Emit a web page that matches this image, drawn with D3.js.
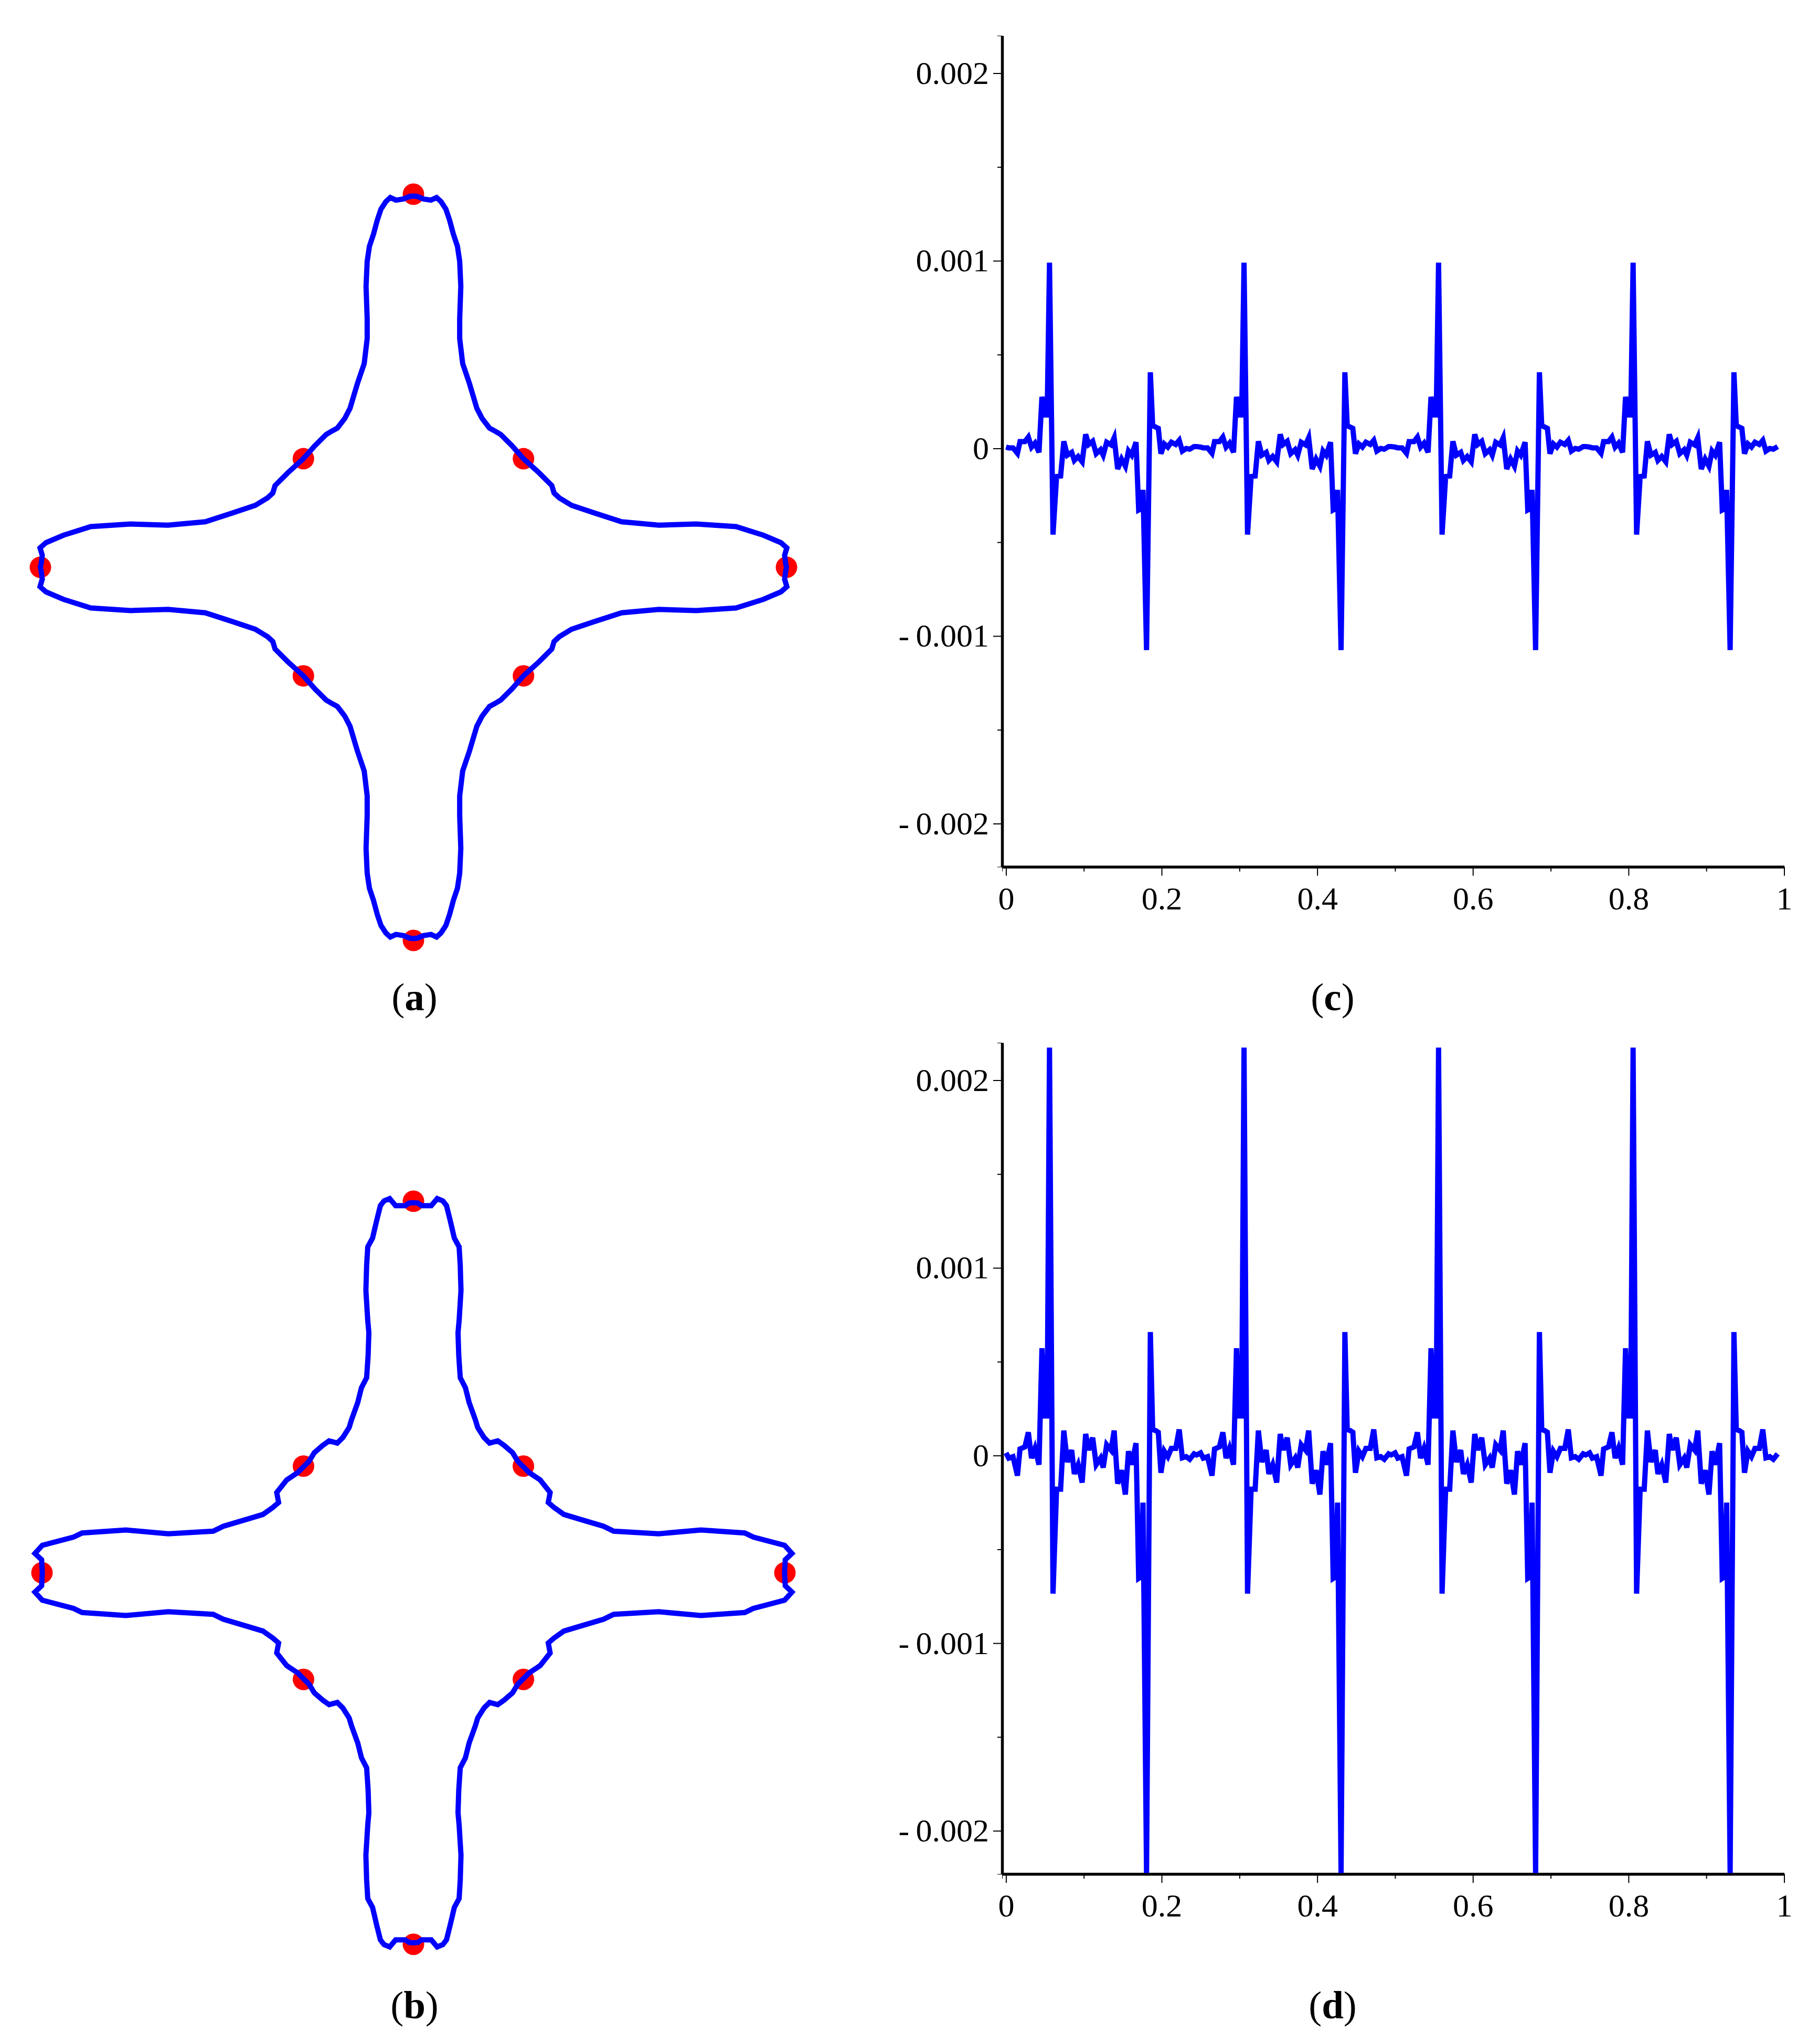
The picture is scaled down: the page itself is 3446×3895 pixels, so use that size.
<!DOCTYPE html>
<html>
<head>
<meta charset="utf-8">
<script src="https://cdn.jsdelivr.net/npm/d3@7"></script>
<style>
  body { margin: 0; background: #fff; }
  svg { display: block; }
</style>
</head>
<body>
<div id="fig"></div>
<script>
// ---- star outlines, unit coords (tip radius = 1) (a) and (b)
var starA = [
  [0,0.995],[0.010,0.994],[0.027,0.987],[0.047,0.984],[0.062,0.991],[0.074,0.980],[0.087,0.960],[0.097,0.930],[0.107,0.893],[0.118,0.860],[0.124,0.820],[0.127,0.753],[0.124,0.666],[0.124,0.613],[0.132,0.546],[0.150,0.493],[0.170,0.426],[0.184,0.399],[0.204,0.373],[0.217,0.366],[0.234,0.356],[0.264,0.326],[0.295,0.291],[0.337,0.253],[0.371,0.219],[0.377,0.199],[0.391,0.186],[0.424,0.166],[0.484,0.146],[0.558,0.122],[0.658,0.113],[0.758,0.116],[0.865,0.109],[0.938,0.086],[0.985,0.066],[1.001,0.052],[0.995,0.032],[0.998,0.009],[1.0,0],
  [0.998,-0.009],[0.995,-0.032],[1.001,-0.052],[0.985,-0.066],[0.938,-0.086],[0.865,-0.109],[0.758,-0.116],[0.658,-0.113],[0.558,-0.122],[0.484,-0.146],[0.424,-0.166],[0.391,-0.186],[0.377,-0.199],[0.371,-0.219],[0.337,-0.253],[0.295,-0.291],[0.264,-0.326],[0.234,-0.356],[0.217,-0.366],[0.204,-0.373],[0.184,-0.399],[0.170,-0.426],[0.150,-0.493],[0.132,-0.546],[0.124,-0.613],[0.124,-0.666],[0.127,-0.753],[0.124,-0.820],[0.118,-0.860],[0.107,-0.893],[0.097,-0.930],[0.087,-0.960],[0.074,-0.980],[0.062,-0.991],[0.047,-0.984],[0.027,-0.987],[0.010,-0.994],[0,-0.995],
  [-0.010,-0.994],[-0.027,-0.987],[-0.047,-0.984],[-0.062,-0.991],[-0.074,-0.980],[-0.087,-0.960],[-0.097,-0.930],[-0.107,-0.893],[-0.118,-0.860],[-0.124,-0.820],[-0.127,-0.753],[-0.124,-0.666],[-0.124,-0.613],[-0.132,-0.546],[-0.150,-0.493],[-0.170,-0.426],[-0.184,-0.399],[-0.204,-0.373],[-0.217,-0.366],[-0.234,-0.356],[-0.264,-0.326],[-0.295,-0.291],[-0.337,-0.253],[-0.371,-0.219],[-0.377,-0.199],[-0.391,-0.186],[-0.424,-0.166],[-0.484,-0.146],[-0.558,-0.122],[-0.658,-0.113],[-0.758,-0.116],[-0.865,-0.109],[-0.938,-0.086],[-0.985,-0.066],[-1.001,-0.052],[-0.995,-0.032],[-0.998,-0.009],[-1.0,0],
  [-0.998,0.009],[-0.995,0.032],[-1.001,0.052],[-0.985,0.066],[-0.938,0.086],[-0.865,0.109],[-0.758,0.116],[-0.658,0.113],[-0.558,0.122],[-0.484,0.146],[-0.424,0.166],[-0.391,0.186],[-0.377,0.199],[-0.371,0.219],[-0.337,0.253],[-0.295,0.291],[-0.264,0.326],[-0.234,0.356],[-0.217,0.366],[-0.204,0.373],[-0.184,0.399],[-0.170,0.426],[-0.150,0.493],[-0.132,0.546],[-0.124,0.613],[-0.124,0.666],[-0.127,0.753],[-0.124,0.820],[-0.118,0.860],[-0.107,0.893],[-0.097,0.930],[-0.087,0.960],[-0.074,0.980],[-0.062,0.991],[-0.047,0.984],[-0.027,0.987],[-0.010,0.994]
];

var starB = [
  [0,0.996],[0.012,0.995],[0.022,0.988],[0.048,0.988],[0.064,1.007],[0.079,1.001],[0.089,0.988],[0.099,0.948],[0.110,0.901],[0.123,0.877],[0.126,0.827],[0.128,0.760],[0.123,0.679],[0.120,0.646],[0.122,0.585],[0.126,0.525],[0.140,0.498],[0.150,0.458],[0.167,0.411],[0.173,0.391],[0.190,0.364],[0.205,0.349],[0.227,0.355],[0.244,0.343],[0.267,0.323],[0.281,0.300],[0.311,0.270],[0.341,0.250],[0.368,0.216],[0.363,0.189],[0.378,0.176],[0.405,0.157],[0.445,0.145],[0.512,0.125],[0.539,0.112],[0.660,0.105],[0.774,0.115],[0.892,0.107],[0.915,0.096],[0.999,0.074],[1.019,0.052],[1.001,0.035],[0.999,0],
  [1.001,-0.035],[1.019,-0.052],[0.999,-0.074],[0.915,-0.096],[0.892,-0.107],[0.774,-0.115],[0.660,-0.105],[0.539,-0.112],[0.512,-0.125],[0.445,-0.145],[0.405,-0.157],[0.378,-0.176],[0.363,-0.189],[0.368,-0.216],[0.341,-0.250],[0.311,-0.270],[0.281,-0.300],[0.267,-0.323],[0.244,-0.343],[0.227,-0.355],[0.205,-0.349],[0.190,-0.364],[0.173,-0.391],[0.167,-0.411],[0.150,-0.458],[0.140,-0.498],[0.126,-0.525],[0.122,-0.585],[0.120,-0.646],[0.123,-0.679],[0.128,-0.760],[0.126,-0.827],[0.123,-0.877],[0.110,-0.901],[0.099,-0.948],[0.089,-0.988],[0.079,-1.001],[0.064,-1.007],[0.048,-0.988],[0.022,-0.988],[0.012,-0.995],[0,-0.996],
  [-0.012,-0.995],[-0.022,-0.988],[-0.048,-0.988],[-0.064,-1.007],[-0.079,-1.001],[-0.089,-0.988],[-0.099,-0.948],[-0.110,-0.901],[-0.123,-0.877],[-0.126,-0.827],[-0.128,-0.760],[-0.123,-0.679],[-0.120,-0.646],[-0.122,-0.585],[-0.126,-0.525],[-0.140,-0.498],[-0.150,-0.458],[-0.167,-0.411],[-0.173,-0.391],[-0.190,-0.364],[-0.205,-0.349],[-0.227,-0.355],[-0.244,-0.343],[-0.267,-0.323],[-0.281,-0.300],[-0.311,-0.270],[-0.341,-0.250],[-0.368,-0.216],[-0.363,-0.189],[-0.378,-0.176],[-0.405,-0.157],[-0.445,-0.145],[-0.512,-0.125],[-0.539,-0.112],[-0.660,-0.105],[-0.774,-0.115],[-0.892,-0.107],[-0.915,-0.096],[-0.999,-0.074],[-1.019,-0.052],[-1.001,-0.035],[-0.999,0],
  [-1.001,0.035],[-1.019,0.052],[-0.999,0.074],[-0.915,0.096],[-0.892,0.107],[-0.774,0.115],[-0.660,0.105],[-0.539,0.112],[-0.512,0.125],[-0.445,0.145],[-0.405,0.157],[-0.378,0.176],[-0.363,0.189],[-0.368,0.216],[-0.341,0.250],[-0.311,0.270],[-0.281,0.300],[-0.267,0.323],[-0.244,0.343],[-0.227,0.355],[-0.205,0.349],[-0.190,0.364],[-0.173,0.391],[-0.167,0.411],[-0.150,0.458],[-0.140,0.498],[-0.126,0.525],[-0.122,0.585],[-0.120,0.646],[-0.123,0.679],[-0.128,0.760],[-0.126,0.827],[-0.123,0.877],[-0.110,0.901],[-0.099,0.948],[-0.089,0.988],[-0.079,1.001],[-0.064,1.007],[-0.048,0.988],[-0.022,0.988],[-0.012,0.995]
];

var dotsA = [[0,1],[0.295,0.291],[1,0],[0.295,-0.291],[0,-1],[-0.295,-0.291],[-1,0],[-0.295,0.291]];
var dotsB = [[0,1],[0.296,0.287],[1,0],[0.296,-0.287],[0,-1],[-0.296,-0.287],[-1,0],[-0.296,0.287]];

// ---- error curves (c) and (d): abscissae and values in units of 1e-3
var tGrid = [
  0,0.0035,0.009,0.0147,0.018,0.0243,0.0287,0.0328,0.0372,0.0424,0.0462,0.05,0.0529,0.0559,0.0604,0.065,0.0702,0.0743,0.0788,0.0844,0.0878,0.0927,0.0979,0.1024,0.1062,0.1114,0.1159,0.1215,0.1249,0.1294,0.135,0.139,0.1435,0.1485,0.1534,0.1574,0.1615,0.1671,0.1705,0.1736,0.1761,0.1806,0.1855,0.1885,0.1923,0.1957,0.1991,0.2035,0.208,0.2125,0.2181,0.2226,0.2266,0.2316,0.2361,0.2417,0.245,
  0.25,0.2535,0.259,0.2647,0.268,0.2743,0.2787,0.2828,0.2872,0.2924,0.2962,0.3,0.3029,0.3059,0.3104,0.315,0.3202,0.3243,0.3288,0.3344,0.3378,0.3427,0.3479,0.3524,0.3562,0.3614,0.3659,0.3715,0.3749,0.3794,0.385,0.389,0.3935,0.3985,0.4034,0.4074,0.4115,0.4171,0.4205,0.4236,0.4261,0.4306,0.4355,0.4385,0.4423,0.4457,0.4491,0.4535,0.458,0.4625,0.4681,0.4726,0.4766,0.4816,0.4861,0.4917,0.495,
  0.5,0.5035,0.509,0.5147,0.518,0.5243,0.5287,0.5328,0.5372,0.5424,0.5462,0.55,0.5529,0.5559,0.5604,0.565,0.5702,0.5743,0.5788,0.5844,0.5878,0.5927,0.5979,0.6024,0.6062,0.6114,0.6159,0.6215,0.6249,0.6294,0.635,0.639,0.6435,0.6485,0.6534,0.6574,0.6615,0.6671,0.6705,0.6736,0.6761,0.6806,0.6855,0.6885,0.6923,0.6957,0.6991,0.7035,0.708,0.7125,0.7181,0.7226,0.7266,0.7316,0.7361,0.7417,0.745,
  0.75,0.7535,0.759,0.7647,0.768,0.7743,0.7787,0.7828,0.7872,0.7924,0.7962,0.8,0.8029,0.8059,0.8104,0.815,0.8202,0.8243,0.8288,0.8344,0.8378,0.8427,0.8479,0.8524,0.8562,0.8614,0.8659,0.8715,0.8749,0.8794,0.885,0.889,0.8935,0.8985,0.9034,0.9074,0.9115,0.9171,0.9205,0.9236,0.9261,0.9306,0.9355,0.9385,0.9423,0.9457,0.9491,0.9535,0.958,0.9625,0.9681,0.9726,0.9766,0.9816,0.9861,0.9917
];

var errC = [
  0.007,0.003,0.003,-0.026,0.036,0.036,0.060,0.007,0.028,-0.021,0.275,0.178,0.178,0.990,-0.459,-0.150,-0.147,0.038,-0.036,-0.021,-0.064,-0.043,-0.071,0.075,0.021,0.038,-0.028,-0.007,-0.036,0.033,0.019,0.057,-0.110,-0.057,-0.095,-0.014,-0.036,0.033,-0.328,-0.321,-0.221,-1.075,0.406,0.121,0.114,0.107,-0.028,0.024,0.007,0.033,0.021,0.043,-0.014,0.000,-0.004,0.010,0.010,
  0.007,0.003,0.003,-0.026,0.036,0.036,0.060,0.007,0.028,-0.021,0.275,0.178,0.178,0.990,-0.459,-0.150,-0.147,0.038,-0.036,-0.021,-0.064,-0.043,-0.071,0.075,0.021,0.038,-0.028,-0.007,-0.036,0.033,0.019,0.057,-0.110,-0.057,-0.095,-0.014,-0.036,0.033,-0.328,-0.321,-0.221,-1.075,0.406,0.121,0.114,0.107,-0.028,0.024,0.007,0.033,0.021,0.043,-0.014,0.000,-0.004,0.010,0.010,
  0.007,0.003,0.003,-0.026,0.036,0.036,0.060,0.007,0.028,-0.021,0.275,0.178,0.178,0.990,-0.459,-0.150,-0.147,0.038,-0.036,-0.021,-0.064,-0.043,-0.071,0.075,0.021,0.038,-0.028,-0.007,-0.036,0.033,0.019,0.057,-0.110,-0.057,-0.095,-0.014,-0.036,0.033,-0.328,-0.321,-0.221,-1.075,0.406,0.121,0.114,0.107,-0.028,0.024,0.007,0.033,0.021,0.043,-0.014,0.000,-0.004,0.010,0.010,
  0.007,0.003,0.003,-0.026,0.036,0.036,0.060,0.007,0.028,-0.021,0.275,0.178,0.178,0.990,-0.459,-0.150,-0.147,0.038,-0.036,-0.021,-0.064,-0.043,-0.071,0.075,0.021,0.038,-0.028,-0.007,-0.036,0.033,0.019,0.057,-0.110,-0.057,-0.095,-0.014,-0.036,0.033,-0.328,-0.321,-0.221,-1.075,0.406,0.121,0.114,0.107,-0.028,0.024,0.007,0.033,0.021,0.043,-0.014,0.000,-0.004,0.010
];

var errD = [
  0.014,-0.014,-0.006,-0.107,0.035,0.046,0.124,-0.014,0.038,-0.049,0.572,0.211,0.211,2.174,-0.736,-0.179,-0.179,0.133,-0.035,0.029,-0.098,-0.049,-0.144,0.115,0.029,0.095,-0.049,-0.014,-0.064,0.058,0.029,0.133,-0.150,-0.078,-0.208,0.023,-0.049,0.066,-0.655,-0.647,-0.251,-2.225,0.658,0.139,0.133,0.124,-0.092,0.023,-0.006,0.038,0.038,0.139,-0.012,-0.006,-0.020,0.009,0.003,
  0.014,-0.014,-0.006,-0.107,0.035,0.046,0.124,-0.014,0.038,-0.049,0.572,0.211,0.211,2.174,-0.736,-0.179,-0.179,0.133,-0.035,0.029,-0.098,-0.049,-0.144,0.115,0.029,0.095,-0.049,-0.014,-0.064,0.058,0.029,0.133,-0.150,-0.078,-0.208,0.023,-0.049,0.066,-0.655,-0.647,-0.251,-2.225,0.658,0.139,0.133,0.124,-0.092,0.023,-0.006,0.038,0.038,0.139,-0.012,-0.006,-0.020,0.009,0.003,
  0.014,-0.014,-0.006,-0.107,0.035,0.046,0.124,-0.014,0.038,-0.049,0.572,0.211,0.211,2.174,-0.736,-0.179,-0.179,0.133,-0.035,0.029,-0.098,-0.049,-0.144,0.115,0.029,0.095,-0.049,-0.014,-0.064,0.058,0.029,0.133,-0.150,-0.078,-0.208,0.023,-0.049,0.066,-0.655,-0.647,-0.251,-2.225,0.658,0.139,0.133,0.124,-0.092,0.023,-0.006,0.038,0.038,0.139,-0.012,-0.006,-0.020,0.009,0.003,
  0.014,-0.014,-0.006,-0.107,0.035,0.046,0.124,-0.014,0.038,-0.049,0.572,0.211,0.211,2.174,-0.736,-0.179,-0.179,0.133,-0.035,0.029,-0.098,-0.049,-0.144,0.115,0.029,0.095,-0.049,-0.014,-0.064,0.058,0.029,0.133,-0.150,-0.078,-0.208,0.023,-0.049,0.066,-0.655,-0.647,-0.251,-2.225,0.658,0.139,0.133,0.124,-0.092,0.023,-0.006,0.038,0.038,0.139,-0.012,-0.006,-0.020,0.009
];

// ---- axes
var xMajor = [0, 0.2, 0.4, 0.6, 0.8, 1];
var xMinor = [0.1, 0.3, 0.5, 0.7, 0.9];
var xTickLabels = ["0", "0.2", "0.4", "0.6", "0.8", "1"];
var yMajor = [-0.002, -0.001, 0, 0.001, 0.002];
var yMinor = [-0.0015, -0.0005, 0.0005, 0.0015];
var yTickLabels = ["-0.002", "-0.001", "0", "0.001", "0.002"];
var panelLabels = ["a", "b", "c", "d"];

var W = 3446, H = 3895;
var FONT = "'Liberation Serif', 'Times New Roman', serif";
var BLUE = "#0000ff", RED = "#ff0000";

var svg = d3.select("#fig").append("svg")
    .attr("width", W)
    .attr("height", H);
svg.append("rect").attr("width", W).attr("height", H).attr("fill", "#fff");

function drawStar(outline, dots, cx, cy, R) {
  var x = d3.scaleLinear().domain([-1, 1]).range([cx - R, cx + R]);
  var y = d3.scaleLinear().domain([-1, 1]).range([cy + R, cy - R]);
  var g = svg.append("g");

  // dots go under the curve
  g.selectAll("circle")
    .data(dots)
    .enter()
    .append("circle")
      .attr("cx", function(d) { return x(d[0]); })
      .attr("cy", function(d) { return y(d[1]); })
      .attr("r", 20.5)
      .attr("fill", RED);

  g.append("path")
    .datum(outline)
    .attr("d", d3.line()
      .x(function(d) { return x(d[0]); })
      .y(function(d) { return y(d[1]); })
      .curve(d3.curveLinearClosed))
    .attr("fill", "none")
    .attr("stroke", BLUE)
    .attr("stroke-width", 10);
}

function drawWave(vals, top, bottom) {
  var x = d3.scaleLinear().domain([-0.005, 1]).range([1910, 3400.5]);
  var y = d3.scaleLinear().domain([-0.00223, 0.0022]).range([bottom, top]);
  var g = svg.append("g");
  var x0 = x.range()[0];

  // minor ticks
  g.append("g")
    .attr("transform", "translate(" + x0 + ",0)")
    .call(d3.axisLeft(y).tickValues(yMinor).tickSize(9).tickFormat(""));
  g.append("g")
    .attr("transform", "translate(0," + bottom + ")")
    .call(d3.axisBottom(x).tickValues(xMinor).tickSize(9).tickFormat(""));

  // major ticks + labels
  var ya = g.append("g")
    .attr("transform", "translate(" + x0 + ",0)")
    .call(d3.axisLeft(y).tickValues(yMajor).tickSize(17).tickPadding(8).tickSizeOuter(0)
      .tickFormat(function(d, i) { return yTickLabels[i].replace("-", "-\u2009"); }));
  var xa = g.append("g")
    .attr("transform", "translate(0," + bottom + ")")
    .call(d3.axisBottom(x).tickValues(xMajor).tickSize(17).tickSizeOuter(0)
      .tickFormat(function(d, i) { return xTickLabels[i]; }));
  xa.selectAll("text").attr("y", 81).attr("dy", null);

  g.selectAll(".domain").attr("stroke", "#000");
  ya.select(".domain").attr("stroke-width", 5.5);
  xa.select(".domain").attr("stroke-width", 5.5);
  g.selectAll(".tick line").attr("stroke", "#000").attr("stroke-width", 2);
  g.selectAll("text")
    .attr("font-family", FONT)
    .attr("font-size", 62)
    .attr("fill", "#000");
  g.selectAll("g").attr("font-family", null).attr("font-size", null);

  var pts = tGrid.map(function(t, i) { return [t, vals[i] * 1e-3]; });
  g.append("path")
    .datum(pts)
    .attr("d", d3.line()
      .x(function(d) { return x(d[0]); })
      .y(function(d) { return y(d[1]); }))
    .attr("fill", "none")
    .attr("stroke", BLUE)
    .attr("stroke-width", 10);
}

drawStar(starA, dotsA, 788, 1081, 711);
drawStar(starB, dotsB, 788, 2997, 708);
drawWave(errC, 68, 1651.7);
drawWave(errD, 1987, 3571);

// (a) (b) (c) (d) captions, letter in bold
var capPos = [[790, 1925], [790, 3846], [2540, 1925], [2540, 3846]];
panelLabels.forEach(function(lab, i) {
  var t = svg.append("text")
    .attr("x", capPos[i][0])
    .attr("y", capPos[i][1])
    .attr("text-anchor", "middle")
    .attr("font-family", FONT)
    .attr("font-size", 75)
    .attr("fill", "#000");
  t.append("tspan").text("(");
  t.append("tspan").attr("font-weight", "bold").text(lab);
  t.append("tspan").text(")");
});
</script>
</body>
</html>
